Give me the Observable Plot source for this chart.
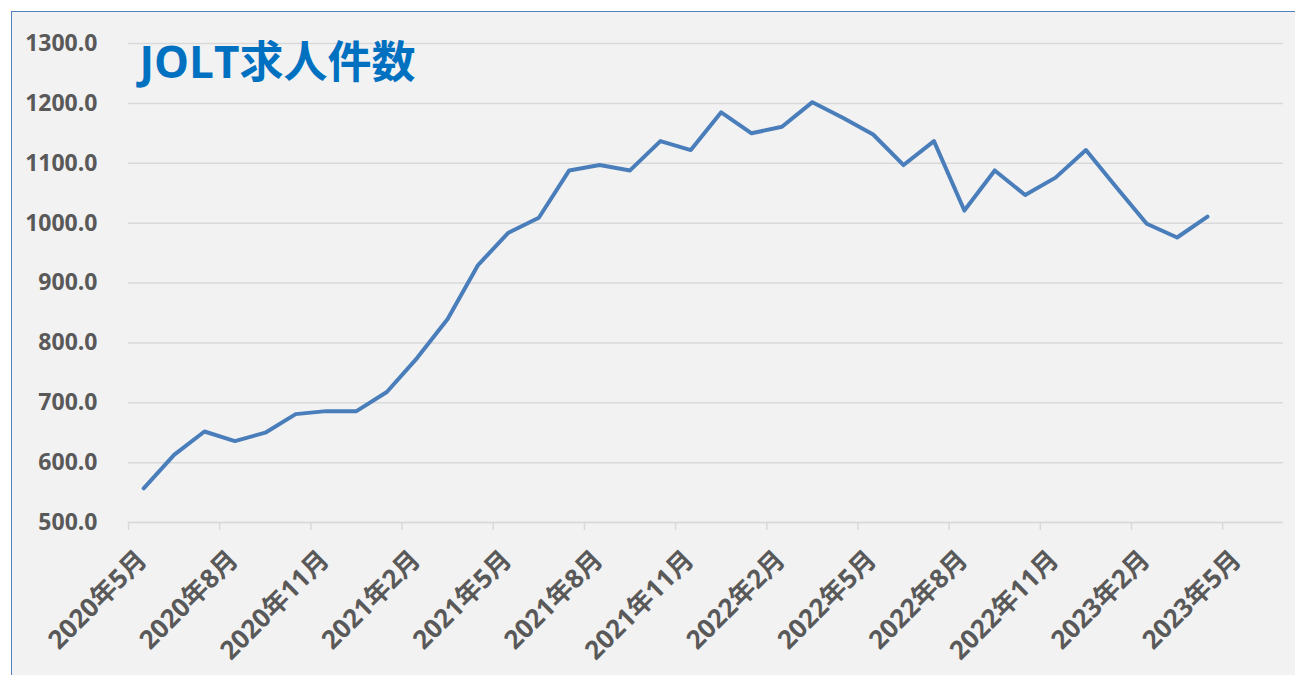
<!DOCTYPE html>
<html>
<head>
<meta charset="utf-8">
<script src="https://cdn.jsdelivr.net/npm/d3@7"></script>
<script src="https://cdn.jsdelivr.net/npm/@observablehq/plot@0.6"></script>
<style>
  html, body { margin: 0; padding: 0; background: #ffffff; width: 1295px; height: 675px; overflow: hidden; }
  #frame { position: absolute; left: 11px; top: 11px; width: 1300px; height: 680px; background: #f2f2f2;
           border-left: 1.5px solid #4f7fbd; border-top: 1.5px solid #4f7fbd; }
  #chart { position: absolute; left: 0; top: 0; }
</style>
</head>
<body>
<div id="frame"></div>
<div id="chart"></div>
<script>
// Monthly JOLTS job openings (10,000s), May 2020 – Apr 2023
const months = [
  "2020年5月","2020年6月","2020年7月","2020年8月","2020年9月","2020年10月","2020年11月","2020年12月",
  "2021年1月","2021年2月","2021年3月","2021年4月","2021年5月","2021年6月","2021年7月","2021年8月",
  "2021年9月","2021年10月","2021年11月","2021年12月",
  "2022年1月","2022年2月","2022年3月","2022年4月","2022年5月","2022年6月","2022年7月","2022年8月",
  "2022年9月","2022年10月","2022年11月","2022年12月",
  "2023年1月","2023年2月","2023年3月","2023年4月"
];
const openings = [
  557, 613, 652, 636, 650, 681, 686, 686,
  718, 775, 840, 930, 984, 1009, 1088, 1097, 1088, 1137, 1122, 1185,
  1150, 1161, 1202, 1176, 1148, 1097, 1137, 1021, 1088, 1047, 1076, 1122,
  1060, 999, 976, 1011
];
const tickLabels = [
  "2020年5月","2020年8月","2020年11月","2021年2月","2021年5月","2021年8月","2021年11月",
  "2022年2月","2022年5月","2022年8月","2022年11月","2023年2月","2023年5月"
];
const yTicks = [500, 600, 700, 800, 900, 1000, 1100, 1200, 1300];
const title = "JOLT求人件数";

const data = months.map((m, i) => ({month: m, idx: i, value: openings[i]}));
const tickIdx = tickLabels.map((_, i) => i * 3);
const nSlots = 38; // category slots on the axis (May 2020 – Jun 2023)

const font = "'Open Sans', 'Noto Sans CJK JP', sans-serif";

const chart = Plot.plot({
  width: 1295,
  height: 675,
  marginLeft: 128,
  marginRight: 12,
  marginTop: 43,
  marginBottom: 153,
  style: {background: "transparent", fontFamily: font, fontSize: "23px", fontWeight: "bold", color: "#595959"},
  x: {type: "linear", domain: [0, nSlots], label: null},
  y: {domain: [500, 1300], label: null},
  marks: [
    Plot.gridY(yTicks, {stroke: "#d9d9d9", strokeOpacity: 1, strokeWidth: 1.5}),
    Plot.axisY(yTicks, {tickSize: 0, tickPadding: 31, tickFormat: d3.format(".1f"), fill: "#595959",
      fontWeight: "bold", fontSize: 23, label: null}),
    Plot.ruleY([500], {stroke: "#d9d9d9", strokeWidth: 1.5}),
    Plot.axisX(tickIdx, {tickSize: 8, stroke: "#d9d9d9", strokeWidth: 1.5, tickFormat: () => "", label: null}),
    Plot.axisX(tickIdx, {
      tickSize: 0, tickPadding: 33, tickRotate: -45,
      fill: "#595959", dx: 14, fontSize: 26, fontWeight: "bold", label: null,
      tickFormat: (d) => tickLabels[d / 3]
    }),
    Plot.line(data, {x: (d) => d.idx + 0.5, y: "value", stroke: "#4a7ebb", strokeWidth: 4,
      strokeLinejoin: "round", strokeLinecap: "round"}),
    Plot.text([title], {frameAnchor: "top-left", dx: 11, dy: 3, lineAnchor: "top", textAnchor: "start",
      fontSize: 44, fontWeight: "bold", fill: "#0070c0", fontFamily: font})
  ]
});
document.getElementById("chart").appendChild(chart);
</script>
</body>
</html>
